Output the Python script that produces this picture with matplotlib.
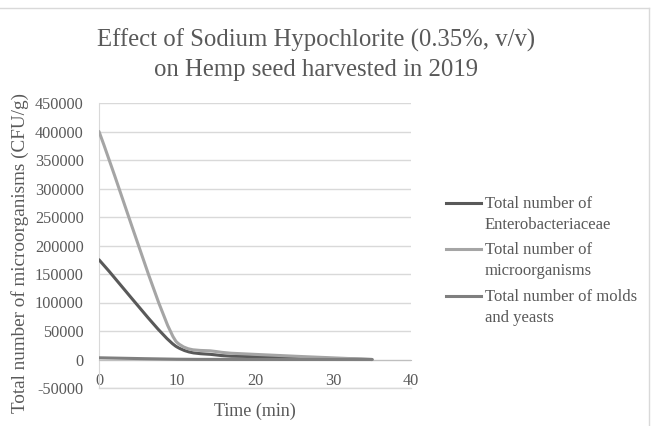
import numpy as np
import matplotlib
matplotlib.use('Agg')
import matplotlib.pyplot as plt
from matplotlib.path import Path
from matplotlib.patches import PathPatch
from matplotlib.lines import Line2D

# values (CFU/g vs minutes)
time_min = [0, 10, 15, 20, 35]
entero = [175000, 22000, 8000, 5000, 0]
micro = [400000, 30000, 14000, 9000, 0]
molds = [3000, 500, 200, 100, 0]

labels = ['Total number of\nEnterobacteriaceae',
          'Total number of\nmicroorganisms',
          'Total number of molds\nand yeasts']
colors = ['#595959', '#a5a5a5', '#7f7f7f']
yticks = list(range(-50000, 450001, 50000))
xticks = [0, 10, 20, 30, 40]

TXT = '#595959'
GRID = '#d9d9d9'
plt.rcParams['font.family'] = ['Liberation Serif', 'DejaVu Serif']
plt.rcParams['axes.unicode_minus'] = False

XLIM = (0, 40)
YLIM = (-50000, 450000)
AX_RECT = [99 / 651, 1 - 388 / 426, 312 / 651, 285 / 426]


def smooth_path(x, y, sx, sy, k=0.4):
    """Smoothed line like Excel's: cubic beziers, tangent = bisector of the
    two neighbouring segments (pixel space), handles sized by the shorter one
    so a sharp drop doesn't overshoot."""
    p = np.column_stack([np.asarray(x, float) * sx, np.asarray(y, float) * sy])
    n = len(p)
    seg = [np.hypot(*(p[i + 1] - p[i])) for i in range(n - 1)]
    unit = [(p[i + 1] - p[i]) / seg[i] for i in range(n - 1)]
    tin, tout = [None] * n, [None] * n
    tout[0] = unit[0] * seg[0] / 3
    tin[-1] = unit[-1] * seg[-1] / 3
    for i in range(1, n - 1):
        d = unit[i - 1] + unit[i]
        d = d / np.hypot(*d)
        L = k * min(seg[i - 1], seg[i])
        tin[i] = d * L
        tout[i] = d * L
    verts = [p[0]]
    codes = [Path.MOVETO]
    for i in range(n - 1):
        verts += [p[i] + tout[i], p[i + 1] - tin[i + 1], p[i + 1]]
        codes += [Path.CURVE4] * 3
    v = np.array(verts)
    v[:, 0] /= sx
    v[:, 1] /= sy
    return Path(v, codes)


fig = plt.figure(figsize=(6.51, 4.26), dpi=100)
ax = fig.add_axes(AX_RECT)
ax.set_xlim(*XLIM)
ax.set_ylim(*YLIM)

sx = AX_RECT[2] * 651 / (XLIM[1] - XLIM[0])
sy = AX_RECT[3] * 426 / (YLIM[1] - YLIM[0])

for ys, c in zip([entero, micro, molds], colors):
    path = smooth_path(time_min, ys, sx, sy)
    ax.add_patch(PathPatch(path, facecolor='none', edgecolor=c, lw=2.2,
                           capstyle='round', joinstyle='round', zorder=3))

ax.set_yticks(yticks)
ax.set_xticks(xticks)
ax.yaxis.grid(True, color=GRID, lw=1)
ax.axhline(YLIM[0], color=GRID, lw=1, clip_on=False, zorder=0)
ax.set_axisbelow(True)
for s in ['top', 'right']:
    ax.spines[s].set_visible(False)
ax.spines['left'].set_color(GRID)
ax.spines['bottom'].set_position(('data', 0))
ax.spines['bottom'].set_color('#bfbfbf')
ax.tick_params(axis='both', length=0, colors=TXT, labelsize=11.7)
ax.tick_params(axis='y', pad=11)
ax.tick_params(axis='x', pad=10)

ax.set_xlabel('Time (min)', fontsize=13, color=TXT)
ax.xaxis.set_label_coords(0.5, -0.05)
ax.set_ylabel('Total number of microorganisms (CFU/g)', fontsize=13.8, color=TXT)
ax.yaxis.set_label_coords(-0.225, 0.475)

fig.text(316 / 651, 1 - 55 / 426,
         'Effect of Sodium Hypochlorite (0.35%, v/v)\non Hemp seed harvested in 2019',
         ha='center', va='center', fontsize=17.8, color=TXT, linespacing=1.4)

# legend, drawn by hand so the handle sits on the first text line
leg_y = [203, 249, 296]
for lab, c, yy in zip(labels, colors, leg_y):
    fy = 1 - yy / 426
    fig.add_artist(Line2D([446 / 651, 481 / 651], [fy, fy], color=c, lw=2.2,
                          transform=fig.transFigure))
    fig.text(485 / 651, 1 - (yy - 7) / 426, lab, ha='left', va='top',
             fontsize=12, color=TXT, linespacing=1.45)

# chart border (top / right edges are visible in the crop)
fig.add_artist(Line2D([0, 649 / 651], [1 - 8 / 426, 1 - 8 / 426], color=GRID, lw=1,
                      transform=fig.transFigure))
fig.add_artist(Line2D([649 / 651, 649 / 651], [1 - 8 / 426, 0], color=GRID, lw=1,
                      transform=fig.transFigure))

fig.savefig('out.png', dpi=100)
